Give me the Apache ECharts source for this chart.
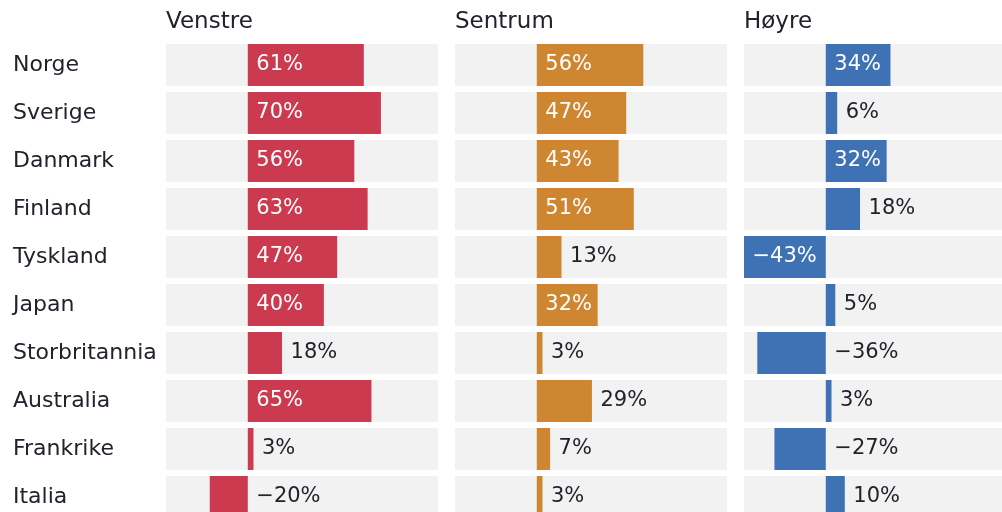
<!DOCTYPE html>
<html>
<head>
<meta charset="utf-8">
<script src="https://cdn.jsdelivr.net/npm/echarts@6/dist/echarts.min.js"></script>
<style>
html,body{margin:0;padding:0;background:#fff;}
#chart{width:1002px;height:512px;}
</style>
</head>
<body>
<div id="chart"></div>
<script>
const categories = ['Norge','Sverige','Danmark','Finland','Tyskland','Japan','Storbritannia','Australia','Frankrike','Italia'];
const panelTitles = ['Venstre','Sentrum','Høyre'];
const venstre = [61,70,56,63,47,40,18,65,3,-20];
const sentrum = [56,47,43,51,13,32,3,29,7,3];
const hoyre = [34,6,32,18,-43,5,-36,3,-27,10];
const panels = [venstre, sentrum, hoyre];
const colors = ['#cc3a50','#cf8630','#3e72b5'];
const axisMin = -43, axisMax = 100;

const FONT = 'DejaVu Sans';
const TEXT = '#22222c';
const FS_LABEL = 21;
const FS_CAT = 22;
const FS_TITLE = 23;
const PANEL_W = 272;

const ctx = document.createElement('canvas').getContext('2d');
ctx.font = FS_LABEL + 'px "' + FONT + '"';
const fmt = (v) => (v < 0 ? '\u2212' + Math.abs(v) : v) + '%';
const fits = (v) => Math.abs(v) * PANEL_W / (axisMax - axisMin) >= ctx.measureText(fmt(v)).width + 12;

const chart = echarts.init(document.getElementById('chart'));
const grids = [], xAxes = [], yAxes = [], series = [], titles = [];
panels.forEach((vals, p) => {
  const left = 166 + p * 289;
  grids.push({left: left, width: PANEL_W, top: 41, height: 480, containLabel: false,
    outerBoundsMode: 'none'});
  titles.push({text: panelTitles[p], left: left, top: 11, padding: 0,
    textStyle: {fontFamily: FONT, fontSize: FS_TITLE, fontWeight: 'normal', color: TEXT}});
  xAxes.push({type: 'value', gridIndex: p, min: axisMin, max: axisMax,
    show: false, splitLine: {show: false}});
  yAxes.push({type: 'category', gridIndex: p, data: categories, inverse: true,
    axisLine: {show: false}, axisTick: {show: false}, splitLine: {show: false},
    axisLabel: p === 0 ? {show: true, align: 'left', margin: 153, fontFamily: FONT,
      fontSize: FS_CAT, color: TEXT} : {show: false}});
  series.push({type: 'bar', xAxisIndex: p, yAxisIndex: p, data: vals, barWidth: 42,
    itemStyle: {color: colors[p]}, showBackground: true,
    backgroundStyle: {color: '#f2f2f2'}, silent: true, animation: false});
  series.push({type: 'scatter', xAxisIndex: p, yAxisIndex: p, symbolSize: 1,
    itemStyle: {color: 'rgba(0,0,0,0)', opacity: 1}, silent: true, animation: false, z: 5,
    data: vals.map((v, i) => {
      const inside = fits(v);
      const pos = inside ? Math.min(v, 0) : Math.max(v, 0);
      return {value: [pos, i], label: {color: inside ? '#ffffff' : TEXT}};
    }),
    label: {show: true, position: 'right', distance: 8, fontFamily: FONT, fontSize: FS_LABEL,
      formatter: (prm) => fmt(vals[prm.dataIndex])}
  });
});

chart.setOption({
  animation: false,
  title: titles,
  grid: grids,
  xAxis: xAxes,
  yAxis: yAxes,
  series: series
});
</script>
</body>
</html>
